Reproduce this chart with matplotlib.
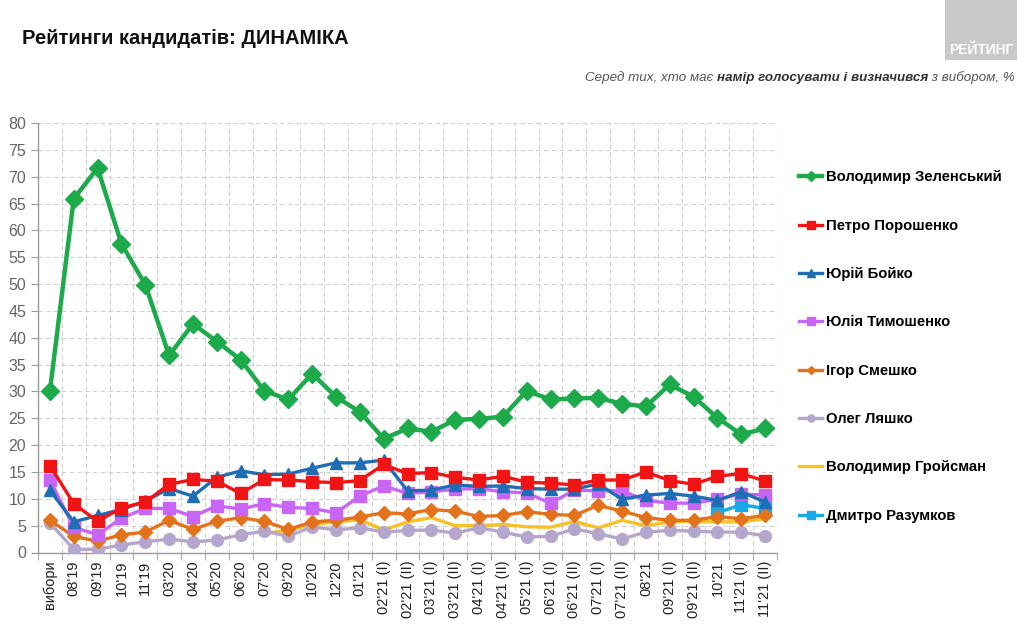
import matplotlib
matplotlib.use("Agg")
import matplotlib.pyplot as plt
import numpy as np
from matplotlib.patches import Rectangle

nan = np.nan

labels = ["вибори", "08'19", "09'19", "10'19", "11'19", "03'20", "04'20", "05'20",
          "06'20", "07'20", "09'20", "10'20", "12'20", "01'21", "02'21 (I)", "02'21 (II)",
          "03'21 (I)", "03'21 (II)", "04'21 (I)", "04'21 (II)", "05'21 (I)", "06'21 (I)",
          "06'21 (II)", "07'21 (I)", "07'21 (II)", "08'21", "09'21 (I)", "09'21 (II)",
          "10'21", "11'21 (I)", "11'21 (II)"]

zelensky = [30.1, 65.9, 71.6, 57.5, 49.9, 36.7, 42.6, 39.3, 35.9, 30.1, 28.5, 33.3, 29.0,
            26.2, 21.2, 23.1, 22.5, 24.7, 24.9, 25.3, 30.1, 28.5, 28.7, 28.8, 27.7, 27.2,
            31.3, 29.0, 25.1, 22.0, 23.1]
poroshenko = [16.2, 9.1, 5.8, 8.3, 9.4, 12.7, 13.6, 13.3, 11.0, 13.6, 13.5, 13.2, 13.0,
              13.4, 16.4, 14.7, 14.9, 14.0, 13.5, 14.2, 13.1, 12.9, 12.6, 13.5, 13.5, 15.0,
              13.4, 12.7, 14.2, 14.7, 13.3]
boyko = [11.6, 5.7, 6.9, 8.0, 9.6, 11.9, 10.5, 14.0, 15.2, 14.5, 14.6, 15.7, 16.7, 16.7,
         17.2, 11.5, 11.6, 12.6, 12.3, 12.4, 11.9, 11.8, 11.8, 12.8, 9.9, 10.7, 11.0, 10.5,
         9.7, 11.3, 9.4]
tymoshenko = [13.5, 4.7, 3.3, 6.4, 8.2, 8.2, 6.7, 8.7, 8.1, 9.1, 8.4, 8.2, 7.4, 10.5,
              12.4, 11.0, 11.3, 11.8, 11.9, 11.3, 11.1, 9.2, 11.6, 11.5, 11.5, 9.7, 9.2,
              9.2, 9.9, 10.9, 10.7]
smeshko = [6.0, 3.0, 2.1, 3.3, 3.8, 6.0, 4.3, 5.8, 6.5, 5.8, 4.3, 5.7, 6.0, 6.6, 7.4, 7.2,
           8.0, 7.7, 6.7, 6.9, 7.6, 7.1, 6.9, 8.8, 7.7, 6.5, 6.0, 6.0, 6.7, 6.3, 6.9]
lyashko = [5.5, 0.6, 0.6, 1.4, 2.0, 2.5, 2.0, 2.3, 3.3, 4.0, 3.0, 4.8, 4.2, 4.6, 3.8, 4.1,
           4.2, 3.6, 4.6, 3.8, 2.9, 3.0, 4.4, 3.5, 2.5, 3.8, 4.1, 4.0, 3.8, 3.8, 3.1]
groysman = [nan] * 9 + [3.5, 4.2, 5.2, 5.7, 6.1, 4.2, 5.7, 6.5, 5.0, 5.0, 5.2, 4.8, 4.7,
                        5.8, 4.6, 6.0, 5.0, 5.7, 5.8, 5.7, 5.7, 6.3]
razumkov = [nan] * 28 + [7.4, 8.9, 8.2]

names = ["Володимир Зеленський", "Петро Порошенко", "Юрій Бойко", "Юлія Тимошенко",
         "Ігор Смешко", "Олег Ляшко", "Володимир Гройсман", "Дмитро Разумков"]

# style per series: colour, marker, marker size, line width
styles = [
    ("#1DAA4B", "D", 9, 3.2),
    ("#F01414", "s", 8.5, 2.4),
    ("#1F6DB5", "^", 8.5, 2.4),
    ("#C965F5", "s", 8.5, 2.4),
    ("#E2731C", "D", 7.5, 2.4),
    ("#B4A6CC", "o", 8.5, 2.4),
    ("#F7C024", None, 0, 2.4),
    ("#17A9E6", "s", 8.5, 2.4),
]

sans = ["Liberation Sans", "DejaVu Sans"]
plt.rcParams["font.family"] = sans

fig = plt.figure(figsize=(10.24, 6.35), dpi=100)
ax = fig.add_axes([38 / 1024, 1 - 552.5 / 635, (777 - 38) / 1024, (552.5 - 123) / 635])

x = np.arange(len(labels))
series = [zelensky, poroshenko, boyko, tymoshenko, smeshko, lyashko, groysman, razumkov]
handles = []
# draw back to front so green sits on top
for i in reversed(range(len(series))):
    col, mk, ms, lw = styles[i]
    h, = ax.plot(x, series[i], color=col, marker=mk, markersize=ms, linewidth=lw,
                 label=names[i], zorder=3 + (len(series) - i) * 0.1)
    handles.append(h)
handles = handles[::-1]

ax.set_xlim(-0.5, len(labels) - 0.5)
ax.set_ylim(0, 80)
ax.set_yticks(np.arange(0, 81, 5))
ax.set_xticks(x)
ax.set_xticklabels(labels, rotation=90, fontsize=10.5, color="#222222")
ax.set_xticks(np.arange(-0.5, len(labels), 1), minor=True)
ax.tick_params(axis="x", which="major", length=0, pad=6)
ax.tick_params(axis="x", which="minor", length=5, color="#999999", direction="out")
ax.tick_params(axis="y", length=5, color="#999999", labelsize=11.5, labelcolor="#666666")

ax.yaxis.grid(True, linestyle=(0, (4, 3)), color="#cfcfcf", linewidth=0.8)
ax.xaxis.grid(True, which="minor", linestyle=(0, (4, 3)), color="#cfcfcf", linewidth=0.8)
ax.set_axisbelow(True)
for s in ["top", "right"]:
    ax.spines[s].set_visible(False)
for s in ["left", "bottom"]:
    ax.spines[s].set_color("#999999")
    ax.spines[s].set_linewidth(1.0)

leg = fig.legend(handles=handles, loc="upper left", bbox_to_anchor=(786 / 1024, 1 - 157 / 635),
                 frameon=False, markerscale=0.6, handlelength=1.55, handletextpad=0.25,
                 labelspacing=2.31, prop={"family": sans, "weight": "bold", "size": 10.7})

# title and subtitle
fig.text(22 / 1024, 1 - 38 / 635, "Рейтинги кандидатів: ДИНАМІКА", fontsize=14.5,
         fontweight="bold", va="center", ha="left", color="#111111")

renderer = fig.canvas.get_renderer()
right = 1015 / 1024
ysub = 1 - 78 / 635
parts = [(" з вибором, %", "normal"), ("намір голосувати і визначився", "bold"),
         ("Серед тих, хто має ", "normal")]
for txt, wt in parts:
    t = fig.text(right, ysub, txt, fontsize=9.6, style="italic", fontweight=wt,
                 color="#555555" if wt == "normal" else "#333333", ha="right", va="center")
    bb = t.get_window_extent(renderer=renderer)
    right = bb.x0 / fig.bbox.width

# logo box top right
fig.patches.append(Rectangle((945 / 1024, 1 - 60 / 635), 72 / 1024, 60 / 635,
                             transform=fig.transFigure, facecolor="#c9c9c9",
                             edgecolor="none", zorder=0))
fig.text(981 / 1024, 1 - 50 / 635, "РЕЙТИНГ", fontsize=10, fontweight="bold",
         color="white", ha="center", va="center")

fig.savefig("out.png", dpi=100)
